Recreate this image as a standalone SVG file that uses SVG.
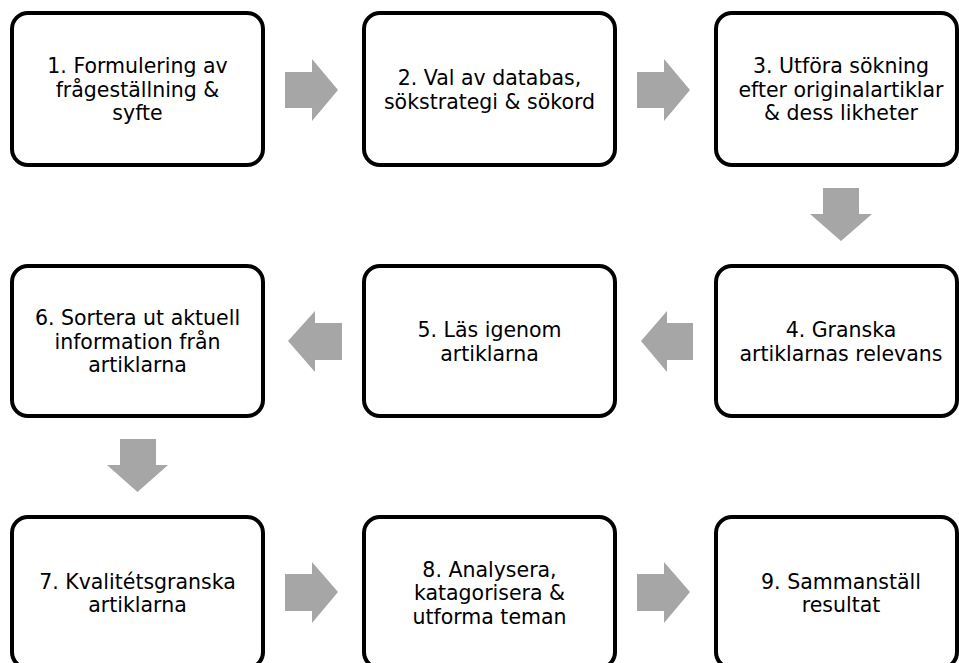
<svg xmlns="http://www.w3.org/2000/svg" width="959" height="663" viewBox="0 0 959 663">
<style>
.box{fill:#fff;stroke:#000;stroke-width:4}
.arr{fill:#a6a6a6;stroke:none}
text{font-family:"DejaVu Sans",Verdana,sans-serif;font-size:20.5px;fill:#000;text-anchor:middle}
</style>
<rect width="959" height="663" fill="#fff"/>
<g id="connectors">
<polygon class="arr" points="285,72 312,72 312,59 338,90 312,121 312,108 285,108"/>
<polygon class="arr" points="637,72 664,72 664,59 690,90 664,121 664,108 637,108"/>
<polygon class="arr" points="823,188 859,188 859,214 872,214 841,241 810,214 823,214"/>
<polygon class="arr" points="693,323 667,323 667,311 641,341 667,372 667,360 693,360"/>
<polygon class="arr" points="342,323 315,323 315,311 288,341 315,372 315,360 342,360"/>
<polygon class="arr" points="120,439 156,439 156,465 168,465 137.5,492 107,465 120,465"/>
<polygon class="arr" points="285,574 312,574 312,562 338,592 312,623 312,611 285,611"/>
<polygon class="arr" points="637,574 664,574 664,562 690,592 664,623 664,611 637,611"/>
</g>
<g id="n1"><rect class="box" x="12" y="13" width="251" height="152" rx="16"/>
<text x="137.5" y="73">1. Formulering av</text><text x="137.5" y="96.5">frågeställning &amp;</text><text x="137.5" y="120">syfte</text></g>
<g id="n2"><rect class="box" x="364" y="13" width="251" height="152" rx="16"/>
<text x="489.5" y="85">2. Val av databas,</text><text x="489.5" y="108.5">sökstrategi &amp; sökord</text></g>
<g id="n3"><rect class="box" x="716" y="13" width="241" height="152" rx="16"/>
<text x="841" y="73">3. Utföra sökning</text><text x="841" y="96.5">efter originalartiklar</text><text x="841" y="120">&amp; dess likheter</text></g>
<g id="n4"><rect class="box" x="716" y="266" width="241" height="150" rx="16"/>
<text x="841" y="337">4. Granska</text><text x="841" y="360.5">artiklarnas relevans</text></g>
<g id="n5"><rect class="box" x="364" y="266" width="251" height="150" rx="16"/>
<text x="489.5" y="337">5. Läs igenom</text><text x="489.5" y="360.5">artiklarna</text></g>
<g id="n6"><rect class="box" x="12" y="266" width="251" height="150" rx="16"/>
<text x="137.5" y="325">6. Sortera ut aktuell</text><text x="137.5" y="348.5">information från</text><text x="137.5" y="372">artiklarna</text></g>
<g id="n7"><rect class="box" x="12" y="517" width="251" height="151" rx="16"/>
<text x="137.5" y="588.5">7. Kvalitétsgranska</text><text x="137.5" y="612">artiklarna</text></g>
<g id="n8"><rect class="box" x="364" y="517" width="251" height="151" rx="16"/>
<text x="489.5" y="576.5">8. Analysera,</text><text x="489.5" y="600">katagorisera &amp;</text><text x="489.5" y="623.5">utforma teman</text></g>
<g id="n9"><rect class="box" x="716" y="517" width="241" height="151" rx="16"/>
<text x="841" y="588.5">9. Sammanställ</text><text x="841" y="612">resultat</text></g>
</svg>
